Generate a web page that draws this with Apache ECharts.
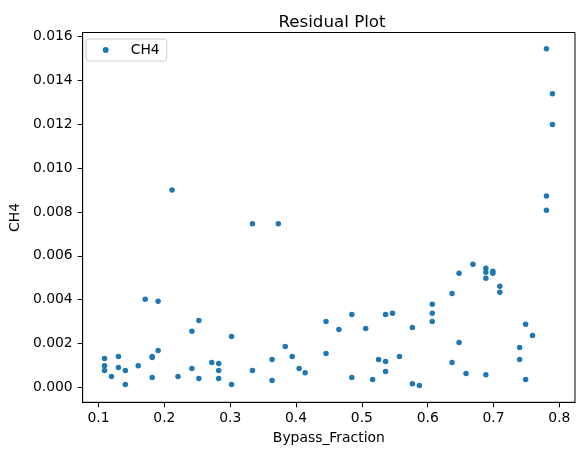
<!DOCTYPE html>
<html>
<head>
<meta charset="utf-8">
<script src="https://cdn.jsdelivr.net/npm/echarts@6/dist/echarts.min.js"></script>
<style>
html,body{margin:0;padding:0;background:#fff;}
#chart{width:584px;height:455px;}
</style>
</head>
<body>
<div id="chart"></div>
<script>
const seriesName = 'CH4';
const bypassFraction = [
  0.1091, 0.1091, 0.1091, 0.1196, 0.1302, 0.1302, 0.1407, 0.1407, 0.1603, 0.1709,
  0.1815, 0.1815, 0.1815, 0.1905, 0.1905, 0.2117, 0.2207, 0.2418, 0.2418, 0.2524,
  0.2524, 0.2720, 0.2825, 0.2825, 0.2825, 0.3021, 0.3021, 0.3338, 0.3338, 0.3636,
  0.3636, 0.3731, 0.3836, 0.3942, 0.4047, 0.4138, 0.4455, 0.4455, 0.4651, 0.4847,
  0.4847, 0.5058, 0.5163, 0.5254, 0.5360, 0.5360, 0.5360, 0.5465, 0.5571, 0.5767,
  0.5767, 0.5873, 0.6069, 0.6069, 0.6069, 0.6370, 0.6370, 0.6476, 0.6476, 0.6582,
  0.6687, 0.6883, 0.6883, 0.6883, 0.6883, 0.6989, 0.6989, 0.7095, 0.7095, 0.7396,
  0.7396, 0.7487, 0.7487, 0.7592, 0.7803, 0.7803, 0.7803, 0.7894, 0.7894
];
const ch4Residual = [
  0.00132, 0.00100, 0.00078, 0.00050, 0.00142, 0.00091, 0.00078, 0.00014, 0.00100, 0.00402,
  0.00142, 0.00137, 0.00046, 0.00393, 0.00169, 0.00900, 0.00050, 0.00256, 0.00087, 0.00306,
  0.00041, 0.00114, 0.00110, 0.00078, 0.00041, 0.00233, 0.00014, 0.00746, 0.00078, 0.00128,
  0.00032, 0.00746, 0.00187, 0.00142, 0.00087, 0.00068, 0.00301, 0.00155, 0.00265, 0.00333,
  0.00046, 0.00269, 0.00037, 0.00128, 0.00333, 0.00119, 0.00073, 0.00338, 0.00142, 0.00274,
  0.00018, 0.00009, 0.00379, 0.00338, 0.00301, 0.00429, 0.00114, 0.00521, 0.00205, 0.00064,
  0.00562, 0.00543, 0.00525, 0.00498, 0.00059, 0.00530, 0.00521, 0.00461, 0.00434, 0.00183,
  0.00128, 0.00288, 0.00037, 0.00237, 0.01543, 0.00872, 0.00808, 0.01338, 0.01198
];
const xTicks = [0.1, 0.2, 0.3, 0.4, 0.5, 0.6, 0.7, 0.8];
const yTicks = [0, 0.002, 0.004, 0.006, 0.008, 0.010, 0.012, 0.014, 0.016];

const points = bypassFraction.map((x, i) => [x, ch4Residual[i]]);
const font = 'DejaVu Sans';
const chart = echarts.init(document.getElementById('chart'), null, {renderer: 'canvas'});
chart.setOption({
  animation: false,
  backgroundColor: '#ffffff',
  title: {
    text: 'Residual Plot',
    left: 327, top: 9, textAlign: 'center',
    textStyle: {fontFamily: font, fontSize: 16.7, fontWeight: 'normal', color: '#000'}
  },
  legend: {
    data: [{name: seriesName, icon: 'circle'}],
    left: 86, top: 39,
    orient: 'vertical',
    itemWidth: 6, itemHeight: 6,
    padding: [4, 7, 4, 16.7],
    backgroundColor: 'rgba(255,255,255,0.8)',
    borderColor: '#cccccc', borderWidth: 1, borderRadius: 3,
    formatter: name => '{g|}{t|' + name + '}',
    textStyle: {
      fontFamily: font, fontSize: 13.9, color: '#000',
      rich: {
        g: {width: 17, fontSize: 13.9},
        t: {fontFamily: font, fontSize: 13.9, color: '#000'}
      }
    }
  },
  grid: {
    left: 79.3, right: 9, top: 32.5, bottom: 52.7,
    show: true, borderColor: '#000', borderWidth: 1, backgroundColor: 'transparent'
  },
  xAxis: {
    type: 'value',
    min: 0.0759, max: 0.8237,
    name: 'Bypass_Fraction', nameLocation: 'middle', nameGap: 29,
    nameTextStyle: {fontFamily: font, fontSize: 13.9, color: '#000'},
    axisLine: {show: true, onZero: false, lineStyle: {color: '#000', width: 1}},
    axisTick: {show: true, length: 5, customValues: xTicks, lineStyle: {color: '#000'}},
    axisLabel: {customValues: xTicks, margin: 9, fontFamily: font, fontSize: 13.9, color: '#000',
      formatter: v => v.toFixed(1)},
    splitLine: {show: false}
  },
  yAxis: {
    type: 'value',
    min: -0.00067, max: 0.01617,
    name: 'CH4', nameLocation: 'middle', nameGap: 55, nameRotate: 90,
    nameTextStyle: {fontFamily: font, fontSize: 13.9, color: '#000'},
    axisLine: {show: true, onZero: false, lineStyle: {color: '#000', width: 1}},
    axisTick: {show: true, length: 5, customValues: yTicks, lineStyle: {color: '#000'}},
    axisLabel: {customValues: yTicks, margin: 10, fontFamily: font, fontSize: 13.9, color: '#000',
      formatter: v => v.toFixed(3)},
    splitLine: {show: false}
  },
  series: [{
    name: seriesName,
    type: 'scatter',
    data: points,
    symbol: 'circle',
    symbolSize: 5.5,
    itemStyle: {color: '#1f77b4', opacity: 1}
  }]
});
</script>
</body>
</html>
